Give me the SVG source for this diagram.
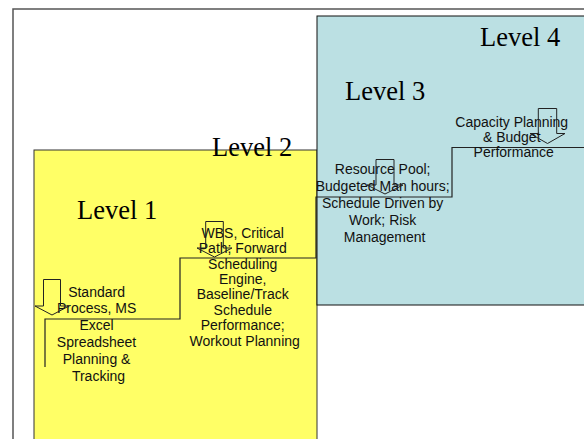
<svg xmlns="http://www.w3.org/2000/svg" width="584" height="439" viewBox="0 0 584 439">
  <style>
    .lvl { font-family: "Liberation Serif", "Times New Roman", serif; font-size: 26.5px; fill: #000; }
    .txt { font-family: "Liberation Sans", Arial, sans-serif; font-size: 14px; fill: #111; text-anchor: middle; }
    .arrow { fill: none; stroke: #222; stroke-width: 1; }
    .step { fill: none; stroke: #222; stroke-width: 1.2; }
  </style>
  <rect x="0" y="0" width="584" height="439" fill="#ffffff"/>
  <rect id="frame" x="13" y="9" width="600" height="460" fill="none" stroke="#555" stroke-width="1.5"/>
  <g id="area-yellow">
    <rect x="34" y="150" width="283" height="320" fill="#FFFF66" stroke="#333" stroke-width="1"/>
  </g>
  <g id="area-blue">
    <rect x="317" y="16" width="290" height="289" fill="#BBE0E3" stroke="#111" stroke-width="1"/>
  </g>
  <g id="connectors">
    <polyline class="step" points="45,367 45,319 180,319 180,258 316,258 316,197 452,197 452,147.5 590,147.5"/>
  </g>
  <g id="level1">
    <text class="lvl" x="77" y="219">Level 1</text>
    <text class="txt" x="98.5">
      <tspan x="98.5" y="296.5">Standard</tspan>
      <tspan x="98.5" y="313.4">Process, MS</tspan>
      <tspan x="98.5" y="330.3">Excel</tspan>
      <tspan x="98.5" y="347.2">Spreadsheet</tspan>
      <tspan x="98.5" y="364.1">Planning &amp;</tspan>
      <tspan x="98.5" y="381">Tracking</tspan>
    </text>
    <path class="arrow" d="M43.5,279.5 H60.5 V306 H69 L52,315 L35,306 H43.5 Z"/>
  </g>
  <g id="level2">
    <text class="lvl" x="212" y="156">Level 2</text>
    <text class="txt">
      <tspan x="244.7" y="237.7">WBS, Critical</tspan>
      <tspan x="244.7" y="253.1">Path; Forward</tspan>
      <tspan x="244.7" y="268.5">Scheduling</tspan>
      <tspan x="244.7" y="283.9">Engine,</tspan>
      <tspan x="244.7" y="299.3">Baseline/Track</tspan>
      <tspan x="244.7" y="314.7">Schedule</tspan>
      <tspan x="244.7" y="330.1">Performance;</tspan>
      <tspan x="244.7" y="345.5">Workout Planning</tspan>
    </text>
    <path class="arrow" d="M205.7,221.5 H223.3 V248 H232 L214.5,257 L197,248 H205.7 Z"/>
  </g>
  <g id="level3">
    <text class="lvl" x="345" y="100">Level 3</text>
    <text class="txt">
      <tspan x="384.6" y="174">Resource Pool;</tspan>
      <tspan x="384.6" y="190.9">Budgeted Man hours;</tspan>
      <tspan x="384.6" y="207.8">Schedule Driven by</tspan>
      <tspan x="384.6" y="224.7">Work; Risk</tspan>
      <tspan x="384.6" y="241.6">Management</tspan>
    </text>
    <path class="arrow" d="M376,159.5 H394 V185 H403 L385,194 L367,185 H376 Z"/>
  </g>
  <g id="level4">
    <text class="lvl" x="480" y="46">Level 4</text>
    <text class="txt">
      <tspan x="513.7" y="126.5">Capacity Planning</tspan>
      <tspan x="513.7" y="141.5">&amp; Budget</tspan>
      <tspan x="513.7" y="156.5">Performance</tspan>
    </text>
    <path class="arrow" d="M538.3,108.5 H556.7 V133.5 H565 L547.5,143.5 L530,133.5 H538.3 Z"/>
  </g>
</svg>
